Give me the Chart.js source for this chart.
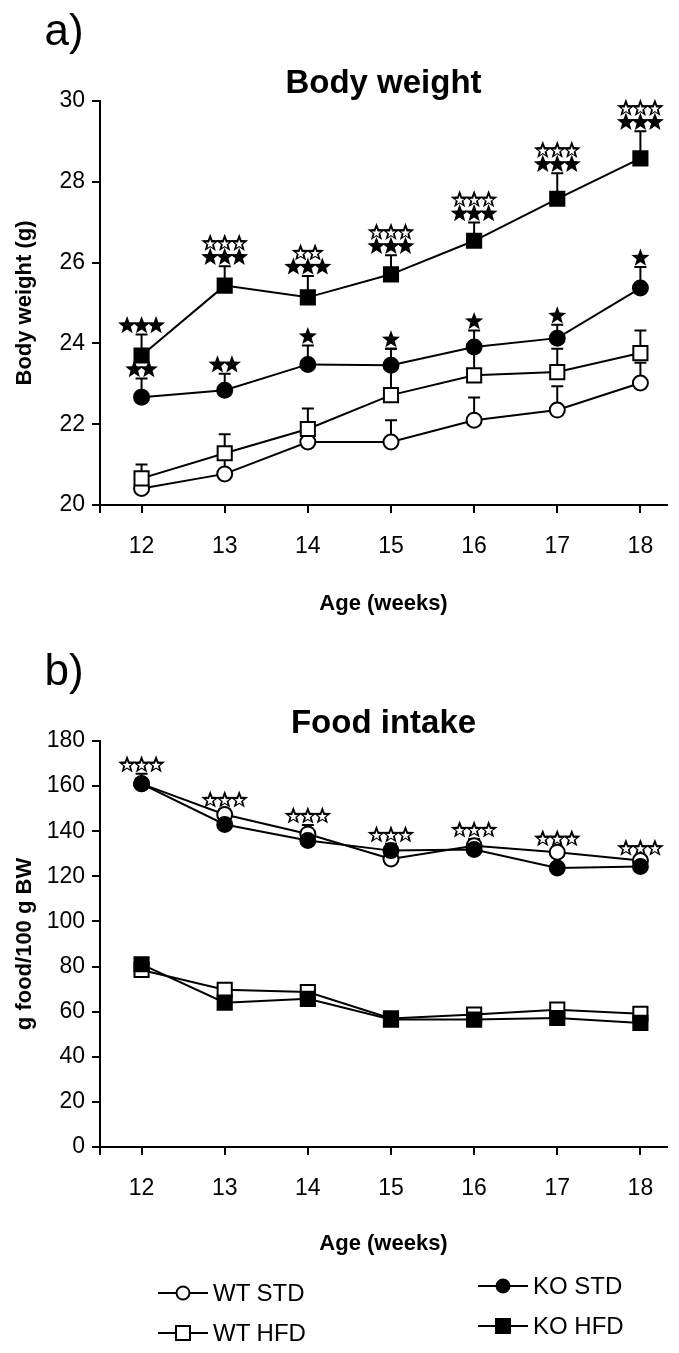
<!DOCTYPE html>
<html>
<head>
<meta charset="utf-8">
<script src="https://cdn.jsdelivr.net/npm/chart.js@4.4.1/dist/chart.umd.min.js"></script>
<style>
  body { margin: 0; background: #fff; }
  #page { position: relative; width: 679px; height: 1353px; overflow: hidden;
          font-family: "Liberation Sans", Arial, sans-serif; color: #000; }
  .panel { position: absolute; left: 0; width: 679px; height: 640px; }
  #panelA { top: 0; }
  #panelB { top: 640px; }
  .legend-item { position: absolute; display: flex; align-items: center;
                 font-size: 24px; transform: translateY(-50%); white-space: nowrap; }
  .legend-item svg { margin-right: 5px; }
</style>
</head>
<body>
<div id="page">
  <div class="panel" id="panelA"><canvas id="bodyWeight" width="679" height="640"></canvas></div>
  <div class="panel" id="panelB"><canvas id="foodIntake" width="679" height="640"></canvas></div>
  <div id="legend"></div>
</div>
<script>
// Data

const weeks = [12, 13, 14, 15, 16, 17, 18];
const seriesNames = ['WT STD', 'WT HFD', 'KO STD', 'KO HFD'];

// body weight (g): mean and upper error
const bwWtStd = [20.41, 20.77, 21.56, 21.56, 22.10, 22.35, 23.02];
const bwWtStdErr = [0.30, 0.40, 0.30, 0.54, 0.56, 0.59, 0.50];
const bwWtHfd = [20.66, 21.28, 21.88, 22.72, 23.21, 23.29, 23.76];
const bwWtHfdErr = [0.34, 0.47, 0.51, 1.15, 0.60, 0.58, 0.56];
const bwKoStd = [22.67, 22.84, 23.48, 23.46, 23.91, 24.13, 25.37];
const bwKoStdErr = [0.46, 0.41, 0.47, 0.41, 0.41, 0.33, 0.52];
const bwKoHfd = [23.70, 25.43, 25.14, 25.71, 26.54, 27.58, 28.58];
const bwKoHfdErr = [0.52, 0.48, 0.53, 0.47, 0.45, 0.63, 0.67];

// significance stars, rows listed top to bottom
const bwStarsKoStd = [['★★'], ['★★'], ['★'], ['★'], ['★'], ['★'], ['★']];
const bwStarsKoHfd = [['★★★'], ['☆☆☆', '★★★'], ['☆☆', '★★★'], ['☆☆☆', '★★★'],
                      ['☆☆☆', '★★★'], ['☆☆☆', '★★★'], ['☆☆☆', '★★★']];

// food intake (g food / 100 g BW)
const fiWtStd = [161.0, 147.4, 138.8, 127.7, 133.6, 130.7, 127.0];
const fiWtStdErr = [4.5, 2.5, 4.0, 1.5, 3.0, 2.0, 1.5];
const fiWtHfd = [78.5, 69.7, 68.7, 57.0, 58.7, 60.9, 59.1];
const fiWtHfdErr = [1.5, 1.5, 1.5, 1.5, 1.5, 1.5, 1.5];
const fiKoStd = [161.0, 143.0, 135.9, 131.4, 131.9, 123.7, 124.4];
const fiKoStdErr = [1.5, 1.5, 1.5, 3.0, 1.5, 1.5, 1.5];
const fiKoHfd = [81.0, 64.0, 65.7, 56.5, 56.5, 57.2, 55.0];
const fiKoHfdErr = [1.5, 1.5, 1.5, 1.5, 1.5, 1.5, 1.5];

const fiStarsStd = [['☆☆☆'], ['☆☆☆'], ['☆☆☆'], ['☆☆☆'], ['☆☆☆'], ['☆☆☆'], ['☆☆☆']];

// Settings

const font = '"Liberation Sans", Arial, sans-serif';
Chart.defaults.font.family = font;
Chart.defaults.color = '#000';

const markers = {
  'WT STD': { pointStyle: 'circle', radius: 7.5, fill: '#fff', order: 4 },
  'WT HFD': { pointStyle: 'rect', radius: 10, fill: '#fff', order: 3 },
  'KO STD': { pointStyle: 'circle', radius: 7.5, fill: '#000', order: 2 },
  'KO HFD': { pointStyle: 'rect', radius: 10, fill: '#000', order: 1 },
};

function makeDataset(name, values, errors) {
  const m = markers[name];
  return {
    label: name,
    data: weeks.map((w, i) => ({ x: w, y: values[i] })),
    errors: errors,
    borderColor: '#000',
    borderWidth: 2,
    pointStyle: m.pointStyle,
    pointRadius: m.radius,
    pointBackgroundColor: m.fill,
    pointBorderColor: '#000',
    pointBorderWidth: 2,
    tension: 0,
    order: m.order,
    clip: false,
  };
}

// Plugins

const errorBars = {
  id: 'errorBars',
  beforeDatasetsDraw(chart) {
    const { ctx, scales: { x, y } } = chart;
    ctx.save();
    ctx.strokeStyle = '#000';
    ctx.lineWidth = 2;
    chart.data.datasets.forEach(function(ds) {
      ds.errors.forEach(function(err, i) {
        const px = x.getPixelForValue(ds.data[i].x);
        const y0 = y.getPixelForValue(ds.data[i].y);
        const y1 = y.getPixelForValue(ds.data[i].y + err);
        ctx.beginPath();
        ctx.moveTo(px, y0);
        ctx.lineTo(px, y1);
        ctx.moveTo(px - 6, y1);
        ctx.lineTo(px + 6, y1);
        ctx.stroke();
      });
    });
    ctx.restore();
  }
};

function starPath(ctx, cx, cy, r) {
  ctx.beginPath();
  for (let k = 0; k < 10; k++) {
    const rad = k % 2 === 0 ? r : r * 0.42;
    const a = -Math.PI / 2 + k * Math.PI / 5;
    const px = cx + rad * Math.cos(a);
    const py = cy + rad * Math.sin(a);
    if (k === 0) ctx.moveTo(px, py); else ctx.lineTo(px, py);
  }
  ctx.closePath();
}

function drawStar(ctx, cx, cy, r, open) {
  ctx.fillStyle = '#000';
  starPath(ctx, cx, cy, r);
  ctx.fill();
  if (open) {
    ctx.fillStyle = '#fff';
    starPath(ctx, cx, cy + r * 0.08, r * 0.5);
    ctx.fill();
  }
}

// groups: [{ datasets: [indexes whose error tops anchor the stars], stars: rows per week }]
function starPlugin(groups) {
  return {
    id: 'stars',
    afterDatasetsDraw(chart) {
      const { ctx, scales: { x, y } } = chart;
      const r = 9.5, step = 14.5, rowStep = 14, gap = 9;
      ctx.save();
      groups.forEach(function(g) {
        g.stars.forEach(function(rows, i) {
          const px = x.getPixelForValue(weeks[i]);
          const tops = g.datasets.map(function(d) {
            const ds = chart.data.datasets[d];
            return y.getPixelForValue(ds.data[i].y + ds.errors[i]);
          });
          let cy = Math.min.apply(null, tops) - gap;
          rows.slice().reverse().forEach(function(row) {
            const chars = Array.from(row);
            const x0 = px - (chars.length - 1) * step / 2;
            chars.forEach(function(c, k) {
              drawStar(ctx, x0 + k * step, cy, r, c === '☆');
            });
            cy -= rowStep;
          });
        });
      });
      ctx.restore();
    }
  };
}

function panelText(letter, title) {
  return {
    id: 'panelText',
    afterDraw(chart) {
      const { ctx, chartArea } = chart;
      ctx.save();
      ctx.fillStyle = '#000';
      ctx.textAlign = 'center';
      ctx.textBaseline = 'middle';
      ctx.font = '44px ' + font;
      ctx.fillText(letter, 64, 33);
      ctx.textBaseline = 'alphabetic';
      ctx.font = 'bold 33px ' + font;
      ctx.fillText(title, (chartArea.left + chartArea.right) / 2, chartArea.top - 8);
      ctx.restore();
    }
  };
}

function scales(yMin, yMax, yStep, yTitle, xHeight) {
  const line = { color: '#000', width: 2 };
  const grid = { drawOnChartArea: false, drawTicks: true, tickLength: 8, color: '#000', lineWidth: 2 };
  return {
    x: {
      type: 'linear',
      min: 11.5,
      max: 18.32,
      afterBuildTicks: function(s) {
        s.ticks = [s.min].concat(weeks).map(function(v) { return { value: v }; });
      },
      ticks: {
        autoSkip: false, maxRotation: 0, padding: 20, color: '#000',
        font: { size: 23 },
        callback: function(v) { return weeks.includes(v) ? String(v) : ''; }
      },
      grid: grid,
      border: line,
      title: { display: true, text: 'Age (weeks)', color: '#000',
               font: { size: 22, weight: 'bold' }, padding: { top: 0, bottom: 23 } },
      afterFit: function(s) { s.height = xHeight; }
    },
    y: {
      min: yMin,
      max: yMax,
      ticks: { stepSize: yStep, padding: 7, color: '#000', font: { size: 23 } },
      grid: grid,
      border: line,
      title: { display: true, text: yTitle, color: '#000',
               font: { size: 22, weight: 'bold' }, padding: { top: 12, bottom: 0 } },
      afterFit: function(s) { s.width = 100; }
    }
  };
}

function baseOptions(yMin, yMax, yStep, yTitle, xHeight) {
  return {
    responsive: false,
    animation: false,
    layout: { padding: { top: 101, left: 0, right: 0, bottom: 0 } },
    plugins: { legend: { display: false }, tooltip: { enabled: false } },
    scales: scales(yMin, yMax, yStep, yTitle, xHeight),
  };
}

// Chart a) Body weight

new Chart(document.getElementById('bodyWeight'), {
  type: 'line',
  data: {
    datasets: [
      makeDataset('WT STD', bwWtStd, bwWtStdErr),
      makeDataset('WT HFD', bwWtHfd, bwWtHfdErr),
      makeDataset('KO STD', bwKoStd, bwKoStdErr),
      makeDataset('KO HFD', bwKoHfd, bwKoHfdErr),
    ]
  },
  options: baseOptions(20, 30, 2, 'Body weight (g)', 135),
  plugins: [
    errorBars,
    starPlugin([
      { datasets: [2], stars: bwStarsKoStd },
      { datasets: [3], stars: bwStarsKoHfd },
    ]),
    panelText('a)', 'Body weight'),
  ]
});

// Chart b) Food intake

new Chart(document.getElementById('foodIntake'), {
  type: 'line',
  data: {
    datasets: [
      makeDataset('WT STD', fiWtStd, fiWtStdErr),
      makeDataset('WT HFD', fiWtHfd, fiWtHfdErr),
      makeDataset('KO STD', fiKoStd, fiKoStdErr),
      makeDataset('KO HFD', fiKoHfd, fiKoHfdErr),
    ]
  },
  options: baseOptions(0, 180, 20, 'g food/100 g BW', 133),
  plugins: [
    errorBars,
    starPlugin([{ datasets: [0, 2], stars: fiStarsStd }]),
    panelText('b)', 'Food intake'),
  ]
});

// Legend

const legendSpots = {
  'WT STD': { left: 158, top: 1293 },
  'WT HFD': { left: 158, top: 1333 },
  'KO STD': { left: 478, top: 1286 },
  'KO HFD': { left: 478, top: 1326 },
};

function legendSymbol(name) {
  const m = markers[name];
  const shape = m.pointStyle === 'circle'
    ? '<circle cx="25" cy="10" r="6.5" fill="' + m.fill + '" stroke="#000" stroke-width="2"/>'
    : '<rect x="18" y="3" width="14" height="14" fill="' + m.fill + '" stroke="#000" stroke-width="2"/>';
  return '<svg width="50" height="20" viewBox="0 0 50 20">' +
    '<line x1="0" y1="10" x2="50" y2="10" stroke="#000" stroke-width="2"/>' + shape + '</svg>';
}

const legend = document.getElementById('legend');
seriesNames.forEach(function(name) {
  const item = document.createElement('div');
  item.className = 'legend-item';
  item.style.left = legendSpots[name].left + 'px';
  item.style.top = legendSpots[name].top + 'px';
  item.innerHTML = legendSymbol(name) + '<span>' + name + '</span>';
  legend.appendChild(item);
});
</script>
</body>
</html>
